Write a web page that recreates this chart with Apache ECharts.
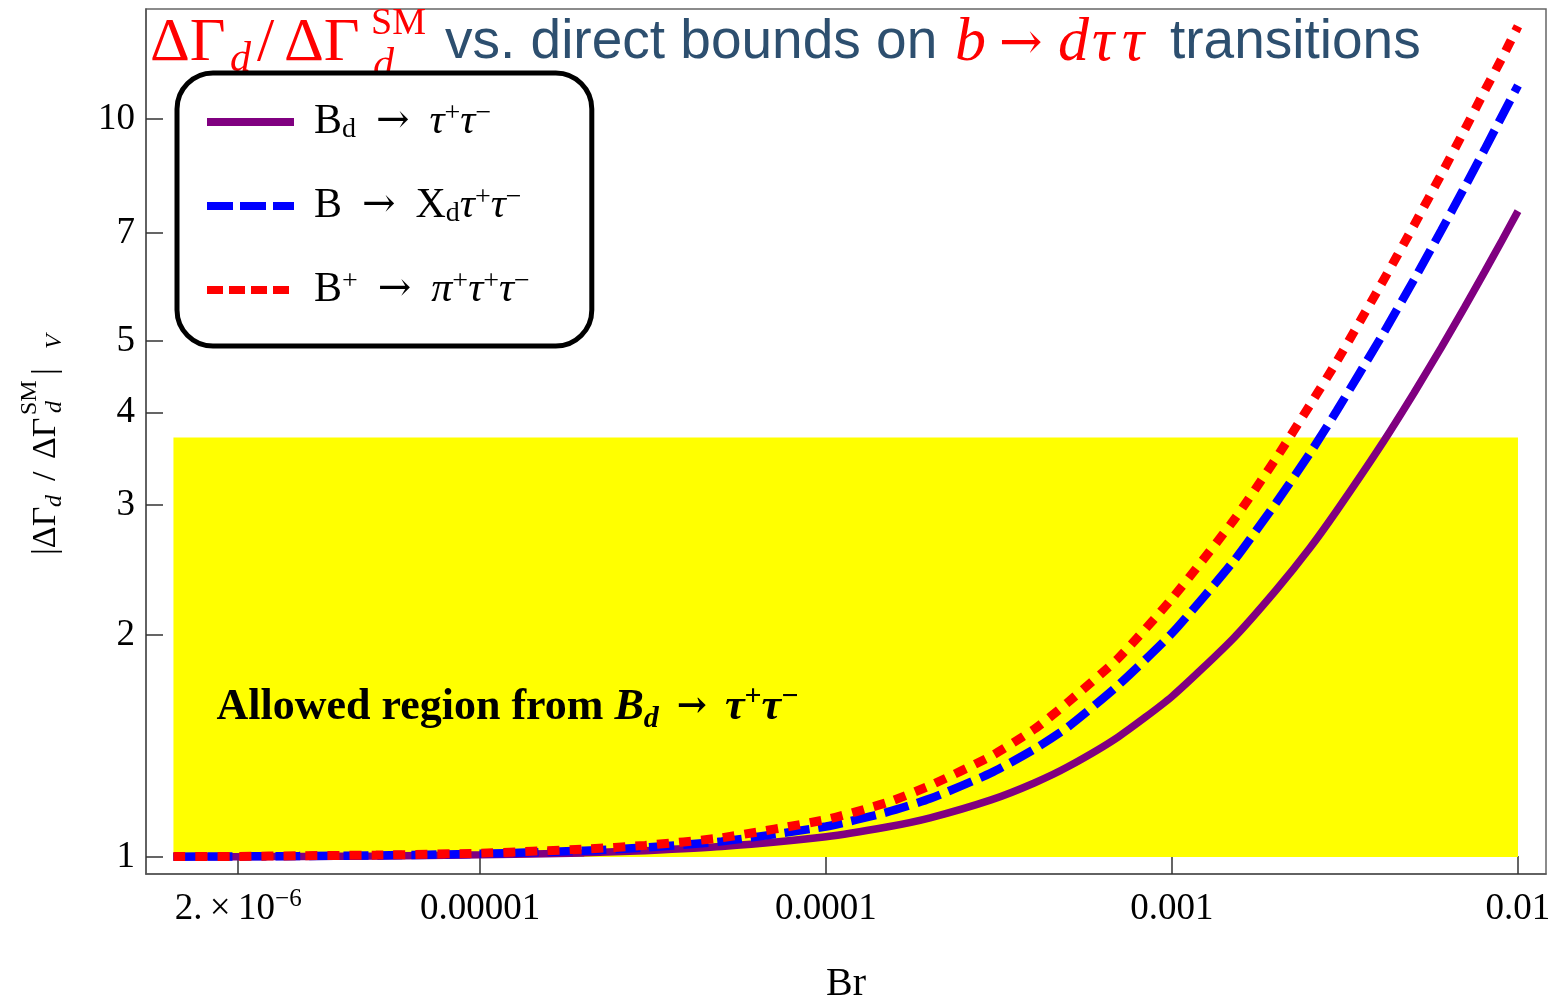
<!DOCTYPE html>
<html><head><meta charset="utf-8">
<script src="https://cdn.jsdelivr.net/npm/echarts@6/dist/echarts.min.js"></script>
<style>html,body{margin:0;padding:0;background:#fff}#c{width:1552px;height:1002px}</style>
</head><body><div id="c"></div>
<script>
// ---------- data ----------
const brValues = [1.3e-6, 2e-6, 3e-6, 5e-6, 1e-5, 2e-5, 3e-5, 5e-5, 1e-4, 1.5e-4, 2e-4, 3e-4, 4e-4, 5e-4, 7e-4, 1e-3, 1.5e-3, 2e-3, 2.5e-3, 3e-3, 4e-3, 5e-3, 6e-3, 7e-3, 8e-3, 9e-3, 1e-2];
const ratioBd  = [1.001, 1.001, 1.002, 1.003, 1.007, 1.013, 1.020, 1.033, 1.065, 1.098, 1.13, 1.195, 1.26, 1.325, 1.455, 1.65, 1.975, 2.30, 2.62, 2.95, 3.60, 4.25, 4.90, 5.55, 6.20, 6.85, 7.50];
const ratioBXd = [1.001, 1.002, 1.003, 1.005, 1.010, 1.020, 1.030, 1.050, 1.10, 1.15, 1.20, 1.30, 1.40, 1.50, 1.71, 2.01, 2.51, 3.02, 3.52, 4.03, 5.04, 6.05, 7.06, 8.07, 9.08, 10.1, 11.1];
const ratioBpi = [1.002, 1.002, 1.004, 1.006, 1.012, 1.025, 1.037, 1.062, 1.124, 1.185, 1.25, 1.37, 1.49, 1.62, 1.86, 2.24, 2.85, 3.47, 4.09, 4.70, 5.94, 7.17, 8.41, 9.65, 10.9, 12.1, 13.35];
const seriesNames = ['Bd', 'BXd', 'Bpi'];
const xTickValues = [2e-6, 1e-5, 1e-4, 1e-3, 1e-2];
const xTickLabels = ['{n|2.\u2009×\u200910}{sup|−6}', '{n|0.00001}', '{n|0.0001}', '{n|0.001}', '{n|0.01}'];
const yTickValues = [1, 2, 3, 4, 5, 7, 10];
const yTickLabels = ['1', '2', '3', '4', '5', '7', '10'];
const allowedBr = [1.3e-6, 0.01];
const allowedRatio = [1, 3.7];
const xRange = [1.083e-6, 0.01205];
const yRange = [0.9484, 14.09];

// ---------- styling ----------
const SERIF = '"Liberation Serif", "Times New Roman", serif';
const ARROWFONT = '"DejaVu Serif", "Liberation Serif", serif';
const SANS = '"Liberation Sans", Arial, sans-serif';
const RED = '#ff0000';
const SLATE = '#2d4f6f';
const PURPLE = '#800080';
const BLUE = '#0000ff';
const ARROW = '\u2002→\u2002';

const legendLabels = {
  Bd: '{n|B}{sub|d}{ar|' + ARROW + '}{it|τ}{sup|+}{it|τ}{sup|−}',
  BXd: '{n|B}{ar|' + ARROW + '}{n|X}{sub|d}{it|τ}{sup|+}{it|τ}{sup|−}',
  Bpi: '{n|B}{sup|+}{ar|' + ARROW + '}{it|π}{sup|+}{it|τ}{sup|+}{it|τ}{sup|−}'
};

function pair(ys) { return brValues.map((x, i) => [x, ys[i]]); }
function findIdx(arr, v) {
  for (let i = 0; i < arr.length; i++) if (Math.abs(Math.log10(arr[i]) - Math.log10(v)) < 1e-4) return i;
  return -1;
}

const titlePieces = [
  {t: 'ΔΓ', x: 150, y: 44, size: 62, fam: SERIF, color: RED},
  {t: 'd', x: 230, y: 60, size: 42, fam: SERIF, color: RED, italic: true},
  {t: '/', x: 257, y: 44, size: 62, fam: SERIF, color: RED},
  {t: 'ΔΓ', x: 284, y: 44, size: 62, fam: SERIF, color: RED},
  {t: 'SM', x: 371, y: 24, size: 38, fam: SERIF, color: RED},
  {t: 'd', x: 373, y: 66, size: 42, fam: SERIF, color: RED, italic: true},
  {t: 'vs. direct bounds on', x: 445, y: 43, size: 55, fam: SANS, color: SLATE},
  {t: 'b', x: 955, y: 44, size: 62, fam: SERIF, color: RED, italic: true},
  {t: '→', x: 999, y: 45, size: 52, fam: ARROWFONT, color: RED},
  {t: 'd', x: 1058, y: 44, size: 62, fam: SERIF, color: RED, italic: true},
  {t: 'τ', x: 1092, y: 44, size: 62, fam: SERIF, color: RED, italic: true},
  {t: 'τ', x: 1122, y: 44, size: 62, fam: SERIF, color: RED, italic: true},
  {t: 'transitions', x: 1170, y: 43, size: 55, fam: SANS, color: SLATE}
];
const yNamePieces = [
  {t: '|ΔΓ', lx: 0, ly: 0, size: 34},
  {t: 'd', lx: 48, ly: 9, size: 24, italic: true},
  {t: '/', lx: 74, ly: 0, size: 34},
  {t: 'ΔΓ', lx: 96, ly: 0, size: 34},
  {t: 'SM', lx: 140, ly: -16, size: 24},
  {t: 'd', lx: 142, ly: 9, size: 24, italic: true},
  {t: '|', lx: 180, ly: 0, size: 34},
  {t: 'V', lx: 206, ly: 9, size: 24, italic: true}
];

function textEl(p, x, y) {
  return {
    type: 'text', x: x, y: y, z: 1,
    style: {
      text: p.t, fill: p.color || '#000', fontSize: p.size, fontFamily: p.fam || SERIF,
      fontStyle: p.italic ? 'italic' : 'normal',
      align: 'left', verticalAlign: 'middle', textAlign: 'left', textVerticalAlign: 'middle'
    }
  };
}

const graphics = titlePieces.map(p => textEl(p, p.x, p.y));
graphics.push({
  type: 'group', x: 46, y: 555, rotation: Math.PI / 2,
  children: yNamePieces.map(p => textEl(p, p.lx, p.ly))
});

const chart = echarts.init(document.getElementById('c'), null, {renderer: 'canvas'});
const option = {
  animation: false,
  backgroundColor: '#fff',
  textStyle: {fontFamily: SERIF},
  grid: {left: 146, right: 6, top: 9, bottom: 128, show: true, borderColor: '#666', borderWidth: 1.5,
         backgroundColor: 'transparent', containLabel: false, outerBoundsMode: 'none'},
  graphic: graphics,
  legend: {
    data: [
      {name: 'Bd', lineStyle: {color: PURPLE, width: 8, type: 'solid'}},
      {name: 'BXd', lineStyle: {color: BLUE, width: 8, type: [26, 7]}},
      {name: 'Bpi', lineStyle: {color: RED, width: 8, type: [16, 6]}}
    ],
    orient: 'vertical', left: 177, top: 73,
    padding: [27, 62, 35, 26], itemGap: 40, itemWidth: 87, itemHeight: 30,
    backgroundColor: '#fff', borderColor: '#000', borderWidth: 5, borderRadius: 36,
    selectedMode: false, z: 10,
    itemStyle: {color: 'rgba(0,0,0,0)', borderWidth: 0, opacity: 0},
    formatter: name => legendLabels[name],
    textStyle: {
      fontFamily: SERIF, fontSize: 42, color: '#000', padding: [0, 0, 0, 15],
      rich: {
        n: {fontFamily: SERIF, fontSize: 42, lineHeight: 44, color: '#000'},
        it: {fontFamily: SERIF, fontSize: 42, lineHeight: 44, fontStyle: 'italic', color: '#000'},
        ar: {fontFamily: ARROWFONT, fontSize: 40, lineHeight: 44, color: '#000'},
        sub: {fontFamily: SERIF, fontSize: 28, lineHeight: 20, verticalAlign: 'bottom', color: '#000'},
        sup: {fontFamily: SERIF, fontSize: 28, lineHeight: 20, verticalAlign: 'top', color: '#000'}
      }
    }
  },
  xAxis: {
    type: 'log', logBase: 10, min: xRange[0], max: xRange[1],
    name: 'Br', nameLocation: 'middle', nameGap: 90,
    nameTextStyle: {fontFamily: SERIF, fontSize: 40, lineHeight: 40, color: '#000'},
    axisLine: {show: true, onZero: false, lineStyle: {color: '#555', width: 1.5}},
    axisTick: {show: true, inside: true, length: 18, customValues: xTickValues, lineStyle: {color: '#333', width: 1.5}},
    minorTick: {show: false}, splitLine: {show: false},
    axisLabel: {
      show: true, customValues: xTickValues, margin: 13, color: '#000',
      fontFamily: SERIF, fontSize: 37, lineHeight: 44, hideOverlap: false,
      formatter: v => { const i = findIdx(xTickValues, v); return i >= 0 ? xTickLabels[i] : ''; },
      rich: {
        n: {fontFamily: SERIF, fontSize: 37, lineHeight: 44, color: '#000'},
        sup: {fontFamily: SERIF, fontSize: 25, lineHeight: 20, verticalAlign: 'top', color: '#000'}
      }
    }
  },
  yAxis: {
    type: 'log', logBase: 10, min: yRange[0], max: yRange[1],
    axisLine: {show: true, onZero: false, lineStyle: {color: '#555', width: 1.5}},
    axisTick: {show: true, inside: true, length: 17, customValues: yTickValues, lineStyle: {color: '#333', width: 1.5}},
    minorTick: {show: false}, splitLine: {show: false},
    axisLabel: {
      show: true, customValues: yTickValues, margin: 11, color: '#000',
      fontFamily: SERIF, fontSize: 37, hideOverlap: false,
      formatter: v => { const i = findIdx(yTickValues, v); return i >= 0 ? yTickLabels[i] : ''; }
    }
  },
  series: [
    {
      name: 'Bd', type: 'line', data: pair(ratioBd), symbol: 'none', smooth: 0.2,
      color: PURPLE, lineStyle: {color: PURPLE, width: 7.5, type: 'solid'}, z: 3,
      markArea: {
        silent: true, z: 1,
        itemStyle: {color: '#ffff00', opacity: 1, borderWidth: 0},
        label: {
          show: true, position: ['3.2%', '64.5%'], align: 'left', verticalAlign: 'middle',
          formatter: '{b|Allowed region from }{bi|B}{bsub|d}{ar|' + ARROW + '}{bi|τ}{bsup|+}{bi|τ}{bsup|−}',
          rich: {
            b: {fontFamily: SERIF, fontSize: 44, fontWeight: 'bold', lineHeight: 52, color: '#000'},
            bi: {fontFamily: SERIF, fontSize: 44, fontWeight: 'bold', fontStyle: 'italic', lineHeight: 52, color: '#000'},
            ar: {fontFamily: ARROWFONT, fontSize: 36, fontWeight: 'bold', lineHeight: 52, color: '#000'},
            bsub: {fontFamily: SERIF, fontSize: 30, fontWeight: 'bold', fontStyle: 'italic', lineHeight: 24, verticalAlign: 'bottom', color: '#000'},
            bsup: {fontFamily: SERIF, fontSize: 30, fontWeight: 'bold', lineHeight: 24, verticalAlign: 'top', color: '#000'}
          }
        },
        data: [[{xAxis: allowedBr[0], yAxis: allowedRatio[0]}, {xAxis: allowedBr[1], yAxis: allowedRatio[1]}]]
      }
    },
    {
      name: 'BXd', type: 'line', data: pair(ratioBXd), symbol: 'none', smooth: 0.2,
      color: BLUE, lineStyle: {color: BLUE, width: 8.5, type: [25, 9]}, z: 4
    },
    {
      name: 'Bpi', type: 'line', data: pair(ratioBpi), symbol: 'none', smooth: 0.2,
      color: RED, lineStyle: {color: RED, width: 9, type: [12, 10]}, z: 5
    }
  ]
};
chart.setOption(option);
</script>
</body></html>
